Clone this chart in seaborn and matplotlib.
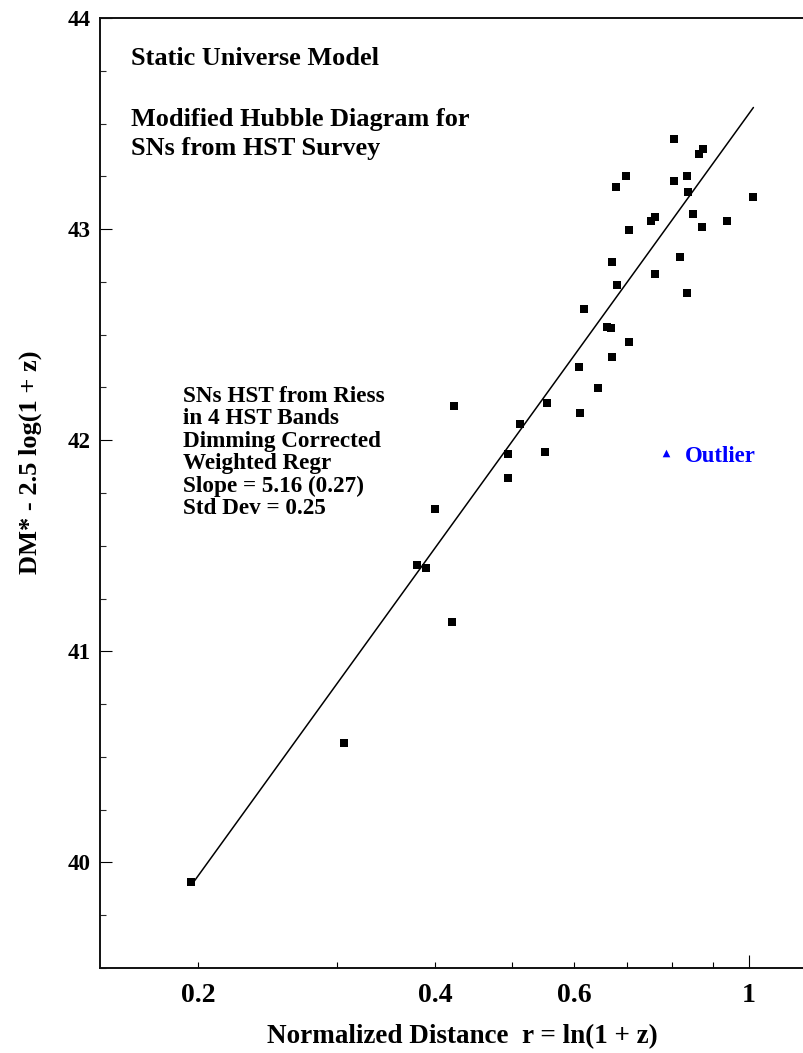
import numpy as np
import pandas as pd
import matplotlib
matplotlib.use("Agg")
import matplotlib.pyplot as plt
from matplotlib.ticker import FixedLocator, FuncFormatter, MultipleLocator, NullFormatter
import seaborn as sns

# Supernovae: normalized distance r = ln(1+z) and corrected distance modulus
r = [0.803, 0.876, 0.864, 0.699, 0.834, 0.803, 0.679, 0.837, 1.014, 0.761,
     0.752, 0.850, 0.938, 0.873, 0.704, 0.670, 0.818, 0.761, 0.681, 0.836,
     0.618, 0.660, 0.668, 0.704, 0.670, 0.608, 0.643, 0.555, 0.423, 0.513,
     0.610, 0.495, 0.552, 0.494, 0.399, 0.379, 0.389, 0.420, 0.306, 0.196]
dm = [43.428, 43.379, 43.356, 43.253, 43.250, 43.229, 43.198, 43.176, 43.151, 43.059,
      43.038, 43.073, 43.037, 43.009, 42.994, 42.844, 42.866, 42.789, 42.734, 42.697,
      42.620, 42.536, 42.530, 42.464, 42.396, 42.347, 42.246, 42.178, 42.163, 42.077,
      42.127, 41.936, 41.944, 41.820, 41.674, 41.409, 41.396, 41.140, 40.567, 39.906]

outlier_r = [0.785]
outlier_dm = [41.938]

# Weighted regression in log10(r)
slope = 5.16
intercept = 43.545

x_tick_labels = {0.2: "0.2", 0.4: "0.4", 0.6: "0.6"}
x_minor_ticks = [0.2, 0.3, 0.4, 0.5, 0.6, 0.7, 0.8, 0.9]

title_lines = ["Static Universe Model", "Modified Hubble Diagram for", "SNs from HST Survey"]
note_lines = ["SNs HST from Riess", "in 4 HST Bands", "Dimming Corrected",
              "Weighted Regr", "Slope = 5.16 (0.27)", "Std Dev = 0.25"]

sns.set_theme(style="ticks")
plt.rcParams["font.family"] = ["Liberation Serif", "DejaVu Serif"]
plt.rcParams["font.weight"] = "bold"

W, H = 804, 1053
fig = plt.figure(figsize=(W / 100, H / 100), dpi=100)
fig.patch.set_facecolor("white")
ax = fig.add_axes([100 / W, 85 / H, 711 / W, 950 / H])
ax.set_facecolor("white")

df = pd.DataFrame({"r": r, "dm": dm})
sns.scatterplot(data=df, x="r", y="dm", marker="s", s=30, color="black",
                linewidth=0, ax=ax, zorder=3)

fit_x = np.array([min(r), max(r)])
fit_df = pd.DataFrame({"r": fit_x, "fit": intercept + slope * np.log10(fit_x)})
sns.lineplot(data=fit_df, x="r", y="fit", color="black", linewidth=1.1, ax=ax, zorder=2)

out_df = pd.DataFrame({"r": outlier_r, "dm": outlier_dm})
sns.scatterplot(data=out_df, x="r", y="dm", marker="^", s=30, color="#0000ff",
                linewidth=0, ax=ax, zorder=3)
ax.annotate("Outlier", xy=(outlier_r[0], outlier_dm[0]), xytext=(13.7, -6.0),
            textcoords="offset points", color="#0000ff", fontsize=16.4,
            fontweight="bold", va="baseline", ha="left")

ax.set_xscale("log")
ax.set_xlim(0.15, 1.2)
ax.set_ylim(39.5, 44)

ax.xaxis.set_major_locator(FixedLocator([1.0]))
ax.xaxis.set_major_formatter(FuncFormatter(lambda v, p: "1"))
ax.xaxis.set_minor_locator(FixedLocator(x_minor_ticks))
ax.xaxis.set_minor_formatter(FuncFormatter(
    lambda v, p: next((lab for k, lab in x_tick_labels.items() if abs(v - k) < 1e-6), "")))
ax.tick_params(axis="x", which="major", direction="in", length=9.4, width=0.8,
               pad=11, labelsize=20, colors="black")
ax.tick_params(axis="x", which="minor", direction="in", length=4.3, width=0.8,
               pad=11, labelsize=20, colors="black")

ax.yaxis.set_major_locator(MultipleLocator(1))
ax.yaxis.set_minor_locator(MultipleLocator(0.25))
ax.yaxis.set_minor_formatter(NullFormatter())
ax.yaxis.set_major_formatter(FuncFormatter(lambda v, p: f"{v:.0f}"))
ax.tick_params(axis="y", which="major", direction="in", length=8.6, width=0.8,
               pad=7, labelsize=16.6, colors="black")
ax.tick_params(axis="y", which="minor", direction="in", length=4.3, width=0.8)

for side in ["left", "bottom", "top"]:
    ax.spines[side].set_linewidth(1.4)
    ax.spines[side].set_color("#111111")
ax.spines["right"].set_visible(False)

ax.set_xlabel("Normalized Distance  r = ln(1 + z)", fontsize=19.5, fontweight="bold",
              color="black", va="top")
ax.xaxis.set_label_coords((462 - 100) / 711, (968 - 1024) / 950)
ax.set_ylabel("DM* - 2.5 log(1 + z)", fontsize=19, fontweight="bold", color="black")
ax.yaxis.set_label_coords((42 - 100) / 711, (968 - 462) / 950)


def fig_xy(px, py):
    return px / W, 1 - py / H


for text, py in zip(title_lines, [65, 126, 155]):
    fig.text(*fig_xy(131, py), text, fontsize=18.9, fontweight="bold",
             va="baseline", ha="left", color="black")

for i, text in enumerate(note_lines):
    fig.text(*fig_xy(183, 402 + 22.5 * i), text, fontsize=16.7, fontweight="bold",
             va="baseline", ha="left", color="black")

fig.savefig("out.png", dpi=100, facecolor="white")
